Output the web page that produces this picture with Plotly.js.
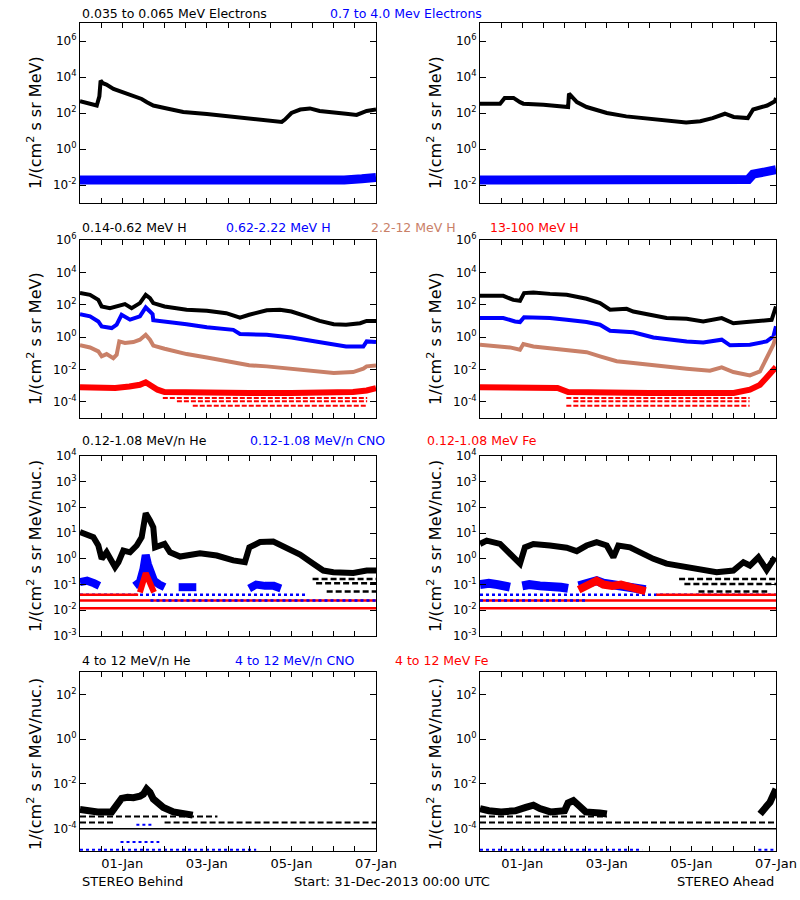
<!DOCTYPE html>
<html><head><meta charset="utf-8">
<script src="https://cdn.plot.ly/plotly-3.0.1.min.js"></script>
<style>body{margin:0;background:#fff}</style>
</head><body><div id="chart" style="width:800px;height:900px"></div>
<script>
// ---------- time axis (hours since 31-Dec-2013 00:00 UTC) ----------
const xTickHours = [0,12,24,36,48,60,72,84,96,108,120,132,144,156,168];
const xTickText  = ['','','01-Jan','','','','03-Jan','','','','05-Jan','','','','07-Jan'];

// ---------- y tick labels ----------
const yTicks1 = [1e-2,1,1e2,1e4,1e6];
const yText1  = ['10<sup>-2</sup>','10<sup>0</sup>','10<sup>2</sup>','10<sup>4</sup>','10<sup>6</sup>'];
const yTicks2 = [1e-4,1e-2,1,1e2,1e4,1e6];
const yText2  = ['10<sup>-4</sup>','10<sup>-2</sup>','10<sup>0</sup>','10<sup>2</sup>','10<sup>4</sup>','10<sup>6</sup>'];
const yTicks3 = [1e-3,1e-2,1e-1,1,1e1,1e2,1e3,1e4];
const yText3  = ['10<sup>-3</sup>','10<sup>-2</sup>','10<sup>-1</sup>','10<sup>0</sup>','10<sup>1</sup>','10<sup>2</sup>','10<sup>3</sup>','10<sup>4</sup>'];
const yTicks4 = [1e-4,1e-2,1,1e2];
const yText4  = ['10<sup>-4</sup>','10<sup>-2</sup>','10<sup>0</sup>','10<sup>2</sup>'];

// ---------- Row 1: electrons ----------
const eLoB_h = [0,9.5,11,11.7,13,15,19,24,30,35,38,41.6,48,58.6,72,87,96,106,114.5,116.3,120,125,130.5,136,144,151,157,162.7,168];
const eLoB   = [450,260,850,6300,4500,3800,2200,1500,980,600,400,260,190,115,87,60,48,39,32,43,100,155,180,130,115,91,78,130,155];
const eHiB_h = [0,40,80,120,150,160,168];
const eHiB   = [0.019,0.018,0.018,0.018,0.019,0.022,0.026];
const eLoA_h = [0,11.4,14,19,22.7,24.6,36,43.5,50,50.5,55,60.5,72,83,96,106,117,125,132,139,144,152,155,163,167.4,168];
const eLoA   = [330,330,690,690,400,330,290,260,215,1200,400,215,100,65,47,39,30,35,52,91,60,52,155,260,450,690];
const eHiA_h = [0,40,80,120,150,152.3,155,160,168];
const eHiA   = [0.019,0.018,0.017,0.017,0.017,0.02,0.04,0.05,0.07];

// ---------- Row 2: protons ----------
const hLoB_h = [0,5.7,10.4,12.3,17,20.8,25.5,29.3,34,37.3,39.7,41.6,48,60.5,72,83,90.8,96,106,113.5,120,128.6,136,144,151,159,162.7,168];
const hLoB   = [525,407,200,78,62,78,110,62,126,407,257,126,78,49,43,30,16,24,45,49,38,19,10,6.3,5.8,7.2,10,10];
const hMidB_h = [0,5.7,10.4,12.3,18,20.8,23.6,28.4,34,37.3,39.7,41.2,41.6,48,60.5,72,87,90.8,106,120,132,144,151,160.8,162.7,168];
const hMidB   = [26,19,9.3,4.6,3.6,5.8,24,12,19,68,38,26,11,9.3,6.3,4.0,2.8,1.55,1.4,0.95,0.59,0.34,0.26,0.26,0.54,0.49];
const hHiB_h = [0,5.7,10.4,12.3,15.1,18.9,20.8,22.3,25.5,30.3,34,37.3,39.7,41.6,48,60.5,72,87,96,106,120,132,144,155,160.8,162.7,168];
const hHiB   = [0.31,0.23,0.13,0.065,0.089,0.050,0.081,0.54,0.43,0.49,0.69,1.38,0.69,0.30,0.19,0.089,0.055,0.029,0.018,0.0155,0.0112,0.0076,0.006,0.0069,0.0112,0.0155,0.0178];
const h13B_h = [0,10,20,28,34,37.3,40,44,48,72,96,120,144,155,162.7,168];
const h13B   = [7.9e-4,7.1e-4,7.1e-4,8.9e-4,1.12e-3,1.6e-3,1e-3,5.6e-4,4e-4,3.5e-4,3.5e-4,3.5e-4,3.5e-4,4e-4,5e-4,7.1e-4];
const h13B_lvl = [1.7e-4,1.07e-4,5.8e-5];
const h13B_start = [47,55,64];
const h13B_end = [163,163,163];

const hLoA_h = [0,13.2,18.9,22.7,25,30.3,39.7,49.2,60.5,68.1,73.8,83.2,87,98.4,105.9,117.3,126.7,137.2,143.8,151.3,158.9,165.5,167.4,168];
const hLoA   = [355,355,200,174,525,575,468,407,234,126,49,56,38,22,15,13.5,9.3,15,7.2,8.5,10,11.7,49,78];
const hMidA_h = [0,13.2,19.9,22.7,25,39.7,49.2,60.5,68.1,73.8,87,98.4,117.3,126.7,137.2,141.9,153.2,162.7,166.5,168];
const hMidA   = [15,15,9.3,8.5,17,15,11.7,8.5,5.8,2.45,2.0,0.95,0.54,0.47,0.69,0.31,0.34,0.54,1.1,4.6];
const hHiA_h = [0,17,22.7,24.6,30.3,49.2,60.5,68.1,77.6,87,98.4,117.3,130.5,137.2,143.8,153.2,158.9,162.7,166.5,168];
const hHiA   = [0.34,0.23,0.166,0.37,0.26,0.166,0.117,0.065,0.032,0.025,0.0178,0.0112,0.0083,0.0135,0.0069,0.0043,0.0076,0.05,0.34,1.1];
const h13A_h = [0,24,44,50,72,96,120,144,153.2,158.9,162.7,168];
const h13A   = [7.9e-4,7.9e-4,7.1e-4,4e-4,3.5e-4,3.5e-4,3.5e-4,3.5e-4,5.6e-4,1.12e-3,3.2e-3,1.4e-2];
const h13A_lvl = [1.7e-4,1.07e-4,5.8e-5];
const h13A_start = [49,53,49];
const h13A_end = [153,153,153];

// ---------- Row 3: 0.12-1.08 MeV/n ions ----------
const heLoB_h = [0,7.6,10.4,12.3,15.1,18,19.9,21.8,24.6,28.4,32.2,35,37.3,39.7,41.6,42.6,45.4,48,51.1,56.8,68.1,77.6,87,93.6,96.1,102.2,109.7,117.3,124.9,132.4,138.1,143.8,155.1,162.7,168];
const heLoB   = [11,6.9,3.3,1,1.8,0.74,0.48,0.74,2.1,1.8,3.3,6.9,59,31,17,2.8,3.3,3.8,1.8,1.23,1.66,1.35,0.87,0.74,2.8,4.5,4.7,2.8,1.48,0.65,0.35,0.30,0.28,0.35,0.35];
const cnoLoB_h = [0,4,8,11,null,31,34,36,37.3,38.5,40,42,45,48,null,56,66,null,96,100,105,110,114];
const cnoLoB   = [0.126,0.141,0.112,0.089,null,0.089,0.126,0.40,1.41,0.63,0.32,0.141,0.10,0.079,null,0.079,0.079,null,0.071,0.10,0.089,0.089,0.071];
const feLoB_h = [34,36,37.3,38.5,40,42];
const feLoB   = [0.05,0.126,0.28,0.18,0.1,0.05];
const lvl3B_sp    = ['CNO','Fe','Fe','CNO','Fe','He','He','He'];
const lvl3B_val   = [0.040,0.040,0.024,0.024,0.012,0.166,0.112,0.054];
const lvl3B_start = [0,0,0,40,0,132,134,140];
const lvl3B_end   = [129,33,168,168,168,168,168,168];

const heLoA_h = [0,3.8,11.4,14.2,18,20.8,22.7,25.5,30.3,39.7,49.2,54.9,60.5,66.2,71.9,75.7,78.5,85.1,90.8,98.4,105.9,115.4,124.9,134.3,143.8,149.5,153.2,158,162.7,167.4];
const heLoA   = [3.8,5.1,3.8,2.45,1.35,0.87,0.65,2.8,3.8,3.3,2.7,2.0,3.3,4.5,3.3,1.15,3.3,2.8,1.8,1.0,0.65,0.48,0.37,0.30,0.35,0.74,0.55,1.15,0.37,1.15];
const cnoLoA_h = [0,5,10,15,17,null,24,28,34,40,46,50,null,56,60,66.2,70,76,84,90,94];
const cnoLoA   = [0.10,0.112,0.10,0.089,0.079,null,0.089,0.10,0.089,0.089,0.079,0.071,null,0.089,0.112,0.141,0.112,0.10,0.089,0.079,0.063];
const feLoA_h = [56,60,64,66.2,70,75,80,85,90,94];
const feLoA   = [0.063,0.089,0.112,0.141,0.10,0.089,0.10,0.079,0.071,0.056];
const lvl3A_sp    = ['CNO','Fe','Fe','CNO','Fe','He','He','He'];
const lvl3A_val   = [0.040,0.040,0.024,0.024,0.012,0.166,0.106,0.054];
const lvl3A_start = [0,100,0,0,0,113,116,124];
const lvl3A_end   = [168,168,168,60,168,168,168,163];

// ---------- Row 4: 4-12 MeV/n ions ----------
const heHiB_h = [0,10,18,20.8,23.6,27,30.3,34,36,37.8,39.7,41.6,44.4,47.3,53,60.5,64];
const heHiB   = [7.1e-4,5.6e-4,5.6e-4,1.12e-3,2.24e-3,2.5e-3,2.4e-3,2.8e-3,3.5e-3,5.9e-3,4.2e-3,2.1e-3,1.26e-3,8.9e-4,5.6e-4,4.5e-4,4.0e-4];
const lvl4B_sp    = ['He','He','He','CNO','CNO','CNO'];
const lvl4B_val   = [3.5e-4,1.9e-4,1.9e-4,1.15e-5,2.5e-5,1.5e-4];
const lvl4B_start = [0,0,48,0,23,32];
const lvl4B_end   = [78,20,168,100,45,42];

const heHiA_h = [0,5,12,20,26,30.3,34,40,48,50,53,56,60,68,72,null,159,161,163,164.6,167.4,168];
const heHiA   = [7.9e-4,6.3e-4,5.6e-4,6.3e-4,8.9e-4,1.12e-3,7.9e-4,5.6e-4,6.3e-4,1.4e-3,1.8e-3,1e-3,5.6e-4,5e-4,4.5e-4,null,4.5e-4,6.3e-4,1.07e-3,1.5e-3,5e-3,5.9e-3];
const lvl4A_sp    = ['He','He','CNO','CNO'];
const lvl4A_val   = [3.5e-4,1.9e-4,1.15e-5,1.15e-5];
const lvl4A_start = [0,0,0,158];
const lvl4A_end   = [72,168,92,168];

const floor412 = 1e-4;

// ---------- helpers ----------
const T0 = Date.UTC(2013,11,31);
function hd(h){ if(h===null) return null; return new Date(T0+h*3600000).toISOString().slice(0,19).replace('T',' '); }
const BLACK='#000000', BLUE='#0000ff', RED='#ff0000', BROWN='#c98068';
const spColor = {He:BLACK, CNO:BLUE, Fe:RED, H13:RED};
const traces=[];
function ax(p,k){ return k+(p===0?'':(p+1)); }
function line(p,hrs,vals,color,width,dash){
  traces.push({type:'scatter',mode:'lines',x:hrs.map(hd),y:vals,xaxis:ax(p,'x'),yaxis:ax(p,'y'),
    line:{color:color,width:width,dash:dash||'solid'},hoverinfo:'skip',showlegend:false});
}
function levels(p,sp,vals,st,en,width){
  for(let i=0;i<vals.length;i++){
    const d = sp[i]==='Fe' ? 'solid' : (sp[i]==='CNO' ? '3px,3px' : (sp[i]==='H13' ? '5px,2px' : '6px,3px'));
    line(p,[st[i],en[i]],[vals[i],vals[i]],spColor[sp[i]],width,d);
  }
}

// Row 1
line(0,eLoB_h,eLoB,BLACK,4); line(0,eHiB_h,eHiB,BLUE,9);
line(1,eLoA_h,eLoA,BLACK,4); line(1,eHiA_h,eHiA,BLUE,9);
// Row 2
line(2,hLoB_h,hLoB,BLACK,4); line(2,hMidB_h,hMidB,BLUE,4); line(2,hHiB_h,hHiB,BROWN,4);
line(2,h13B_h,h13B,RED,6); levels(2,['H13','H13','H13'],h13B_lvl,h13B_start,h13B_end,2);
line(3,hLoA_h,hLoA,BLACK,4); line(3,hMidA_h,hMidA,BLUE,4); line(3,hHiA_h,hHiA,BROWN,4);
line(3,h13A_h,h13A,RED,6); levels(3,['H13','H13','H13'],h13A_lvl,h13A_start,h13A_end,2);
// Row 3
levels(4,lvl3B_sp,lvl3B_val,lvl3B_start,lvl3B_end,2.5);
line(4,heLoB_h,heLoB,BLACK,6); line(4,cnoLoB_h,cnoLoB,BLUE,8); line(4,feLoB_h,feLoB,RED,6);
levels(5,lvl3A_sp,lvl3A_val,lvl3A_start,lvl3A_end,2.5);
line(5,heLoA_h,heLoA,BLACK,6); line(5,cnoLoA_h,cnoLoA,BLUE,9); line(5,feLoA_h,feLoA,RED,8);
// Row 4
line(6,[0,168],[floor412,floor412],BLACK,1.5);
levels(6,lvl4B_sp,lvl4B_val,lvl4B_start,lvl4B_end,2);
line(6,heHiB_h,heHiB,BLACK,7);
line(7,[0,168],[floor412,floor412],BLACK,1.5);
levels(7,lvl4A_sp,lvl4A_val,lvl4A_start,lvl4A_end,2);
line(7,heHiA_h,heHiA,BLACK,7);

// ---------- layout ----------
const W=800,H=900;
const colX=[[80,376],[480,776]];
const rowY=[[23,203],[240,418],[456,636],[672,851]];
const yRange=[[-3,7],[-5,6],[-3,4],[-5,3]];
const yTV=[yTicks1,yTicks2,yTicks3,yTicks4], yTT=[yText1,yText2,yText3,yText4];
const FONT='DejaVu Sans';
const layout={width:W,height:H,margin:{l:0,r:0,t:0,b:0},paper_bgcolor:'#fff',plot_bgcolor:'#fff',
  showlegend:false,font:{family:FONT,size:12,color:'#000'},annotations:[]};
for(let p=0;p<8;p++){
  const r=Math.floor(p/2), c=p%2;
  layout[ax(p,'xaxis')]={domain:[colX[c][0]/W,colX[c][1]/W],anchor:ax(p,'y'),type:'date',
    range:[hd(0),hd(168)],tickmode:'array',tickvals:xTickHours.map(hd),ticktext:xTickText,
    ticks:'inside',ticklen:5,tickcolor:'#000',showline:true,linecolor:'#000',linewidth:1,mirror:'ticks',
    showgrid:false,zeroline:false,showticklabels:r===3,tickfont:{family:FONT,size:13,color:'#000'},fixedrange:true};
  layout[ax(p,'yaxis')]={domain:[1-rowY[r][1]/H,1-rowY[r][0]/H],anchor:ax(p,'x'),type:'log',
    range:yRange[r],tickmode:'array',tickvals:yTV[r],ticktext:yTT[r],
    ticks:'inside',ticklen:6,tickcolor:'#000',showline:true,linecolor:'#000',linewidth:1,mirror:'ticks',
    showgrid:false,zeroline:false,tickfont:{family:FONT,size:12,color:'#000'},fixedrange:true};
}
function txt(s,x,y,color,opts){
  layout.annotations.push(Object.assign({text:s,x:x/W,y:1-y/H,xref:'paper',yref:'paper',showarrow:false,
    xanchor:'left',yanchor:'middle',font:{family:FONT,size:13,color:color}},opts||{}));
}
// headers
function head(s,x,y,color){ txt(s,x,y,color,{font:{family:FONT,size:12.5,color:color}}); }
head('0.035 to 0.065 MeV Electrons',80,13,BLACK); head('0.7 to 4.0 Mev Electrons',328,13,BLUE);
head('0.14-0.62 MeV H',80,227,BLACK); head('0.62-2.22 MeV H',224,227,BLUE);
head('2.2-12 MeV H',369,227,BROWN); head('13-100 MeV H',488,227,RED);
head('0.12-1.08 MeV/n He',80,440,BLACK); head('0.12-1.08 MeV/n CNO',248,440,BLUE); head('0.12-1.08 MeV Fe',425,440,RED);
head('4 to 12 MeV/n He',80,660,BLACK); head('4 to 12 MeV/n CNO',233,660,BLUE); head('4 to 12 MeV Fe',393,660,RED);
// y titles
const yTitleCenters=[123,339,546,764];
for(let r=0;r<4;r++){
  const t = r<2 ? '1/(cm<sup>2</sup> s sr MeV)' : '1/(cm<sup>2</sup> s sr MeV/nuc.)';
  for(let c=0;c<2;c++) txt(t,34+400*c,yTitleCenters[r],BLACK,{xanchor:'center',textangle:-90,font:{family:FONT,size:16,color:BLACK}});
}
// footer
txt('STEREO Behind',80,881,BLACK);
txt('Start: 31-Dec-2013 00:00 UTC',292,881,BLACK);
txt('STEREO Ahead',776,881,BLACK,{xanchor:'right'});

Plotly.newPlot('chart',traces,layout,{staticPlot:true,displayModeBar:false});
</script></body></html>
